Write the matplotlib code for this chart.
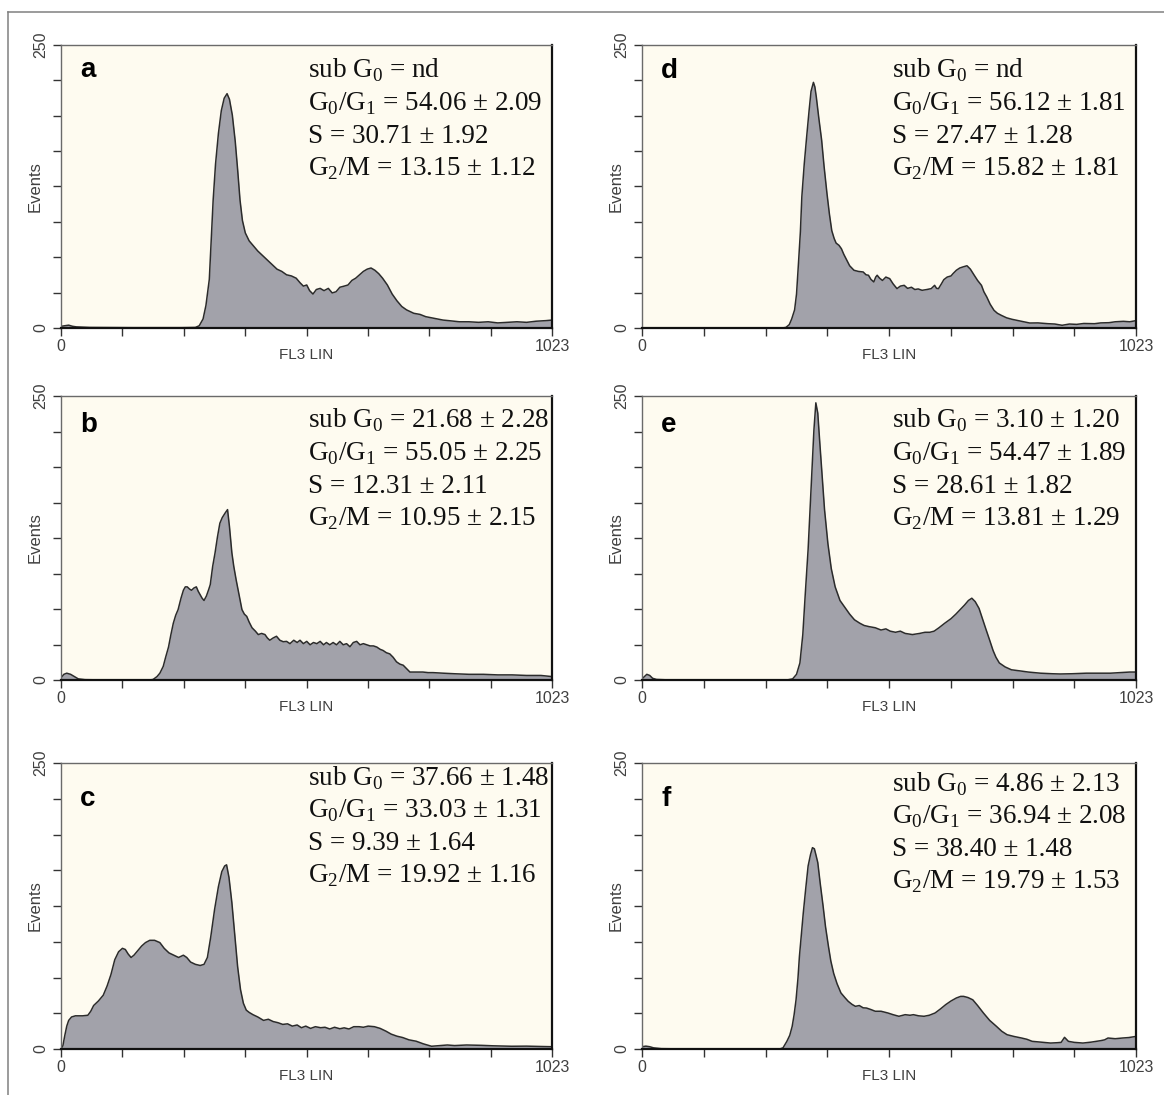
import numpy as np
import matplotlib.pyplot as plt
from matplotlib.lines import Line2D

plt.rcParams['font.family'] = ['Liberation Sans', 'DejaVu Sans']
plt.rcParams['mathtext.fontset'] = 'custom'
plt.rcParams['mathtext.rm'] = 'Liberation Serif'

# histogram outlines: channel (FL3 LIN) and events
ch_a = [0, 8, 16, 24, 32, 60, 150, 250, 280, 288, 296, 302, 309, 313, 317, 322, 328, 334, 340, 346,
        351, 357, 363, 368, 373, 378, 384, 392, 400, 410, 420, 430, 440, 450, 460, 470, 480, 490,
        498, 505, 512, 518, 525, 532, 540, 548, 557, 565, 573, 581, 590, 598, 606, 614, 622, 630,
        638, 646, 654, 662, 670, 680, 690, 700, 710, 720, 735, 748, 760, 772, 784, 796, 808, 830,
        850, 870, 890, 910, 930, 950, 970, 990, 1010, 1023]
ev_a = [1.5, 2, 2.5, 1.5, 1, 0.5, 0.3, 0.3, 0.5, 2, 8, 20, 43, 78, 113, 145, 172, 192, 203, 207,
        202, 188, 165, 140, 113, 95, 84, 77, 73, 68, 64, 60, 56, 52, 50, 47, 46, 44,
        40, 37, 38, 33, 30, 34, 35, 33, 35, 31, 32, 36, 37, 38, 42, 44, 47, 50,
        52, 53, 51, 48, 44, 38, 30, 24, 19, 16, 13, 12, 10, 9, 8, 7, 6.5, 5.5,
        5.5, 5, 5.5, 4.5, 5, 5.5, 5, 6, 6.5, 7]

ch_b = [0, 6, 12, 20, 28, 36, 50, 100, 185, 192, 200, 206, 213, 218, 224, 229, 234, 239, 244, 250,
        255, 259, 263, 268, 272, 277, 282, 286, 290, 294, 298, 303, 308, 311, 316, 321, 326, 331,
        336, 342, 347, 351, 356, 360, 365, 371, 377, 382, 387, 392, 398, 405, 411, 418, 425, 430,
        435, 442, 449, 456, 463, 470, 477, 485, 492, 498, 505, 512, 519, 526, 533, 540, 547, 553,
        560, 567, 574, 581, 588, 595, 602, 609, 616, 623, 630, 637, 644, 651, 658, 665, 671, 678,
        685, 692, 699, 706, 713, 720, 727, 740, 754, 765, 775, 796, 820, 850, 880, 910, 940, 970,
        1000, 1023]
ev_b = [2, 5, 6, 5, 3, 1, 0.3, 0, 0, 0.5, 3, 6, 12, 20, 29, 40, 50, 57, 62, 72,
        79, 82, 82, 80, 79, 81, 82, 78, 75, 72, 70, 74, 80, 84, 100, 112, 126, 138,
        143, 147, 150, 135, 112, 100, 88, 75, 62, 58, 56, 51, 46, 43, 40, 41, 40, 37,
        35, 37, 38.5, 35, 33.7, 34, 32, 35, 33, 35, 32, 34, 31, 33, 32, 34, 31, 33,
        31, 33, 31, 34, 31, 32, 29.3, 33, 34, 31, 32, 31, 30, 30, 29, 27, 26, 24,
        23, 20, 16, 14, 13, 10, 7, 7, 7, 6.5, 6.5, 6, 5.5, 5, 5, 4.5, 4.5, 4,
        4, 3]

ch_c = [0, 4, 8, 12, 16, 22, 30, 45, 56, 62, 68, 78, 88, 96, 104, 112, 120, 128, 134, 140,
        146, 152, 160, 168, 176, 185, 195, 206, 215, 225, 235, 245, 255, 262, 270, 280, 290, 298,
        305, 312, 320, 328, 335, 341, 345, 350, 356, 362, 368, 374, 380, 386, 392, 400, 410, 422,
        432, 442, 452, 462, 472, 482, 492, 501, 510, 520, 530, 541, 550, 560, 570, 581, 590, 600,
        610, 621, 630, 640, 653, 665, 677, 688, 700, 712, 725, 740, 755, 772, 790, 805, 820, 845,
        876, 900, 939, 970, 1000, 1023]
ev_c = [0, 3, 12, 20, 25, 28, 29, 29, 29.5, 33, 38, 42, 47, 55, 65, 78, 85, 88, 87, 83,
        80, 82, 86, 90, 93, 95, 95, 93, 88, 84, 82, 80, 82, 80, 76, 74, 73, 74,
        80, 98, 122, 142, 155, 160, 161, 150, 128, 100, 72, 52, 40, 34, 32, 30, 28, 25,
        26, 24, 23, 21.5, 22, 20, 21, 18.6, 20, 18, 19.5, 18.6, 19, 17.5, 19, 17.7, 18.5, 17.5,
        19.5, 19.5, 19, 20, 19.5, 18, 15.6, 13, 11.2, 10, 8, 6.8, 4.5, 2.4, 3, 3.5, 3, 3.5,
        3.2, 2.8, 2.4, 2.5, 2.2, 2]

ch_d = [0, 290, 298, 305, 310, 316, 320, 324, 328, 331, 336, 341, 346, 350, 355, 358, 361, 366, 372, 377,
        383, 388, 393, 398, 402, 408, 413, 418, 424, 430, 439, 448, 458, 464, 469, 474, 480, 484,
        487, 492, 498, 505, 513, 520, 528, 535, 543, 550, 558, 565, 572, 580, 590, 599, 606, 610,
        614, 620, 625, 632, 640, 644, 651, 658, 665, 673, 680, 688, 695, 703, 708, 714, 721, 729,
        736, 744, 755, 766, 785, 803, 820, 841, 855, 870, 885, 900, 915, 937, 950, 967, 980, 997,
        1010, 1023]
ev_d = [0, 0, 0.5, 3, 8, 16, 30, 57, 85, 116, 145, 169, 192, 209, 217, 213, 204, 186, 166, 143,
        119, 101, 86, 79, 75, 73, 70, 65, 60, 55, 51, 50, 49.5, 47, 46.6, 43, 40.7, 45,
        46.6, 44, 42, 45, 43.6, 39, 34.8, 37, 37.7, 35, 36, 34, 34.5, 33.3, 34, 34.8, 37.7, 35,
        34.8, 39, 42.7, 45, 46, 48, 51, 53, 54, 55, 52, 46.6, 42, 37.7, 32, 27.4, 21, 15.6,
        13, 11.2, 9, 7.7, 6, 4.4, 4.5, 3.8, 3.5, 2.4, 3.5, 3.2, 4, 3.8, 4.5, 4.7, 5.5, 5.9,
        5.5, 6.5]

ch_e = [0, 5, 10, 16, 22, 30, 60, 300, 312, 320, 327, 333, 338, 344, 348, 352, 356, 360, 364, 368,
        373, 378, 385, 392, 400, 410, 420, 430, 440, 451, 460, 470, 483, 495, 505, 514, 525, 535,
        545, 560, 575, 586, 596, 605, 615, 627, 640, 650, 659, 668, 676, 683, 690, 698, 705, 712,
        720, 727, 733, 740, 752, 765, 783, 800, 825, 850, 866, 890, 920, 948, 970, 990, 1010, 1023]
ev_e = [1, 3, 5, 4, 1.5, 0.5, 0, 0, 1, 5, 15, 40, 75, 115, 150, 185, 220, 244, 235, 210,
        180, 150, 120, 98, 82, 70, 64, 58, 53, 50, 48, 47, 46, 44, 45, 43, 42, 43,
        41, 40, 41, 42, 42, 43, 46, 50, 54, 58, 62, 66, 70, 72, 69, 63, 54, 45,
        35, 26, 20, 15, 11.5, 9, 8, 7, 6, 5.5, 5.3, 5.5, 6, 6, 6, 6.5, 7, 7]

ch_f = [0, 8, 16, 24, 40, 100, 285, 292, 300, 306, 311, 315, 319, 323, 326, 330, 334, 339, 344, 349,
        353, 357, 360, 364, 369, 375, 380, 386, 391, 397, 404, 412, 420, 427, 435, 442, 450, 458,
        465, 474, 483, 495, 509, 520, 532, 545, 555, 562, 573, 584, 595, 607, 618, 629, 640, 651,
        660, 666, 675, 685, 695, 707, 720, 734, 745, 756, 770, 786, 797, 808, 826, 846, 860, 868,
        875, 883, 895, 913, 930, 950, 958, 965, 980, 995, 1008, 1023]
ev_f = [2, 2.5, 2, 1, 0.3, 0, 0, 1, 6.7, 12, 19.8, 30, 43, 62, 81, 100, 119, 140, 160, 170,
        176, 175, 170, 163, 145, 125, 107, 90, 77, 66, 57, 49, 45, 41.7, 39, 37.3, 38, 36,
        35.8, 34.5, 33, 33, 31.5, 30, 28.6, 30, 29.5, 30, 29, 28.6, 29.5, 31.5, 35, 38.8, 42, 44.6,
        46, 46, 45, 43, 38, 31.5, 25, 19.8, 15.5, 12.5, 11, 9.6, 8.5, 6.7, 6, 5.2, 5.5, 5.8,
        10.2, 6.7, 5.8, 5.2, 6, 7.3, 8, 9.6, 9, 9.6, 10, 11]

G0 = r'$\mathrm{G}_0$'
G1 = r'$\mathrm{G}_1$'
G2 = r'$\mathrm{G}_2$'

stats = {
    'a': ['nd', '54.06 ± 2.09', '30.71 ± 1.92', '13.15 ± 1.12'],
    'b': ['21.68 ± 2.28', '55.05 ± 2.25', '12.31 ± 2.11', '10.95 ± 2.15'],
    'c': ['37.66 ± 1.48', '33.03 ± 1.31', '9.39 ± 1.64', '19.92 ± 1.16'],
    'd': ['nd', '56.12 ± 1.81', '27.47 ± 1.28', '15.82 ± 1.81'],
    'e': ['3.10 ± 1.20', '54.47 ± 1.89', '28.61 ± 1.82', '13.81 ± 1.29'],
    'f': ['4.86 ± 2.13', '36.94 ± 2.08', '38.40 ± 1.48', '19.79 ± 1.53'],
}
prefixes = ['sub ' + G0 + ' = ', G0 + '/' + G1 + ' = ', 'S = ', G2 + '/M = ']

hists = {'a': (ch_a, ev_a), 'b': (ch_b, ev_b), 'c': (ch_c, ev_c),
         'd': (ch_d, ev_d), 'e': (ch_e, ev_e), 'f': (ch_f, ev_f)}

# layout in pixels: (left, top, width, height), label offset, text offsets
W, H = 1164, 1095
boxes = {'a': (61, 45, 491, 283), 'b': (61, 396, 491, 284), 'c': (61, 763, 491, 286),
         'd': (642, 45, 494, 283), 'e': (642, 396, 494, 284), 'f': (642, 763, 494, 286)}
label_y = {'a': 32, 'b': 36, 'c': 43, 'd': 33, 'e': 36, 'f': 43}
text_top = {'a': 33, 'b': 32, 'c': 22, 'd': 33, 'e': 32, 'f': 28}
text_x = {'a': 0.503, 'b': 0.503, 'c': 0.503, 'd': 0.506, 'e': 0.506, 'f': 0.506}

fig = plt.figure(figsize=(W / 100, H / 100), dpi=100)
fig.patch.set_facecolor('white')

# outer frame of the figure
fig.add_artist(Line2D([8 / W, 1.01], [1 - 12 / H, 1 - 12 / H], color='#808080', lw=1.1))
fig.add_artist(Line2D([8 / W, 8 / W], [1 - 12 / H, -0.01], color='#808080', lw=1.1))

for key in 'abcdef':
    l, t, w, h = boxes[key]
    ax = fig.add_axes([l / W, 1 - (t + h) / H, w / W, h / H])
    ax.set_facecolor('#FEFBF0')
    ch, ev = hists[key]
    ax.fill_between(ch, ev, 0, color='#A2A2AA', lw=0)
    ax.plot(ch, ev, color='#2b2b2b', lw=1.1)
    ax.set_xlim(0, 1023)
    ax.set_ylim(0, 250)

    ax.set_xticks(np.linspace(0, 1023, 9))
    ax.set_xticklabels(['0'] + [''] * 7 + ['1023'])
    ax.set_yticks(np.linspace(0, 250, 9))
    ax.set_yticklabels(['0'] + [''] * 7 + ['250'])
    ax.tick_params(axis='x', direction='out', length=6, width=1, color='#333333',
                   pad=2, labelsize=11.5, labelcolor='#404040')
    ax.tick_params(axis='y', direction='out', length=6, width=1, color='#333333',
                   pad=3, labelsize=11.5, labelcolor='#404040', labelrotation=90)
    for lab in ax.get_yticklabels():
        lab.set_va('center')

    for side in ['top', 'left']:
        ax.spines[side].set_color('#6a6a6a')
        ax.spines[side].set_linewidth(1.0)
    for side in ['right', 'bottom']:
        ax.spines[side].set_color('#111111')
        ax.spines[side].set_linewidth(1.6)

    ax.text(0.5, -27 / h, 'FL3 LIN', transform=ax.transAxes, ha='center', va='center',
            fontsize=11, color='#404040')
    ax.text(-26 / w, 0.5, 'Events', transform=ax.transAxes, ha='center', va='center',
            rotation=90, fontsize=12, color='#404040')

    ax.text(19 / w, 1 - label_y[key] / h, key, transform=ax.transAxes, ha='left',
            va='baseline', fontsize=20, fontweight='bold', color='black')

    for i, (pre, val) in enumerate(zip(prefixes, stats[key])):
        ax.text(text_x[key], 1 - (text_top[key] + i * 32.5) / h, pre + val,
                transform=ax.transAxes, ha='left', va='baseline', fontsize=19.5,
                family=['Liberation Serif', 'DejaVu Serif'], color='#111111')

fig.savefig('out.png', dpi=100)
